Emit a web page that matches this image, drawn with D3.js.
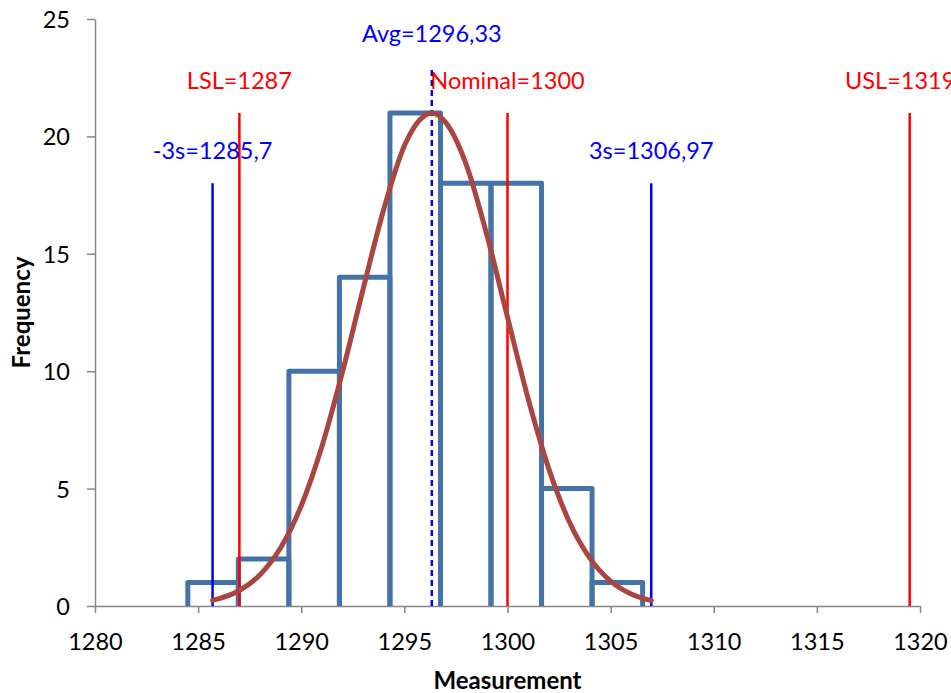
<!DOCTYPE html>
<html>
<head>
<meta charset="utf-8">
<script src="https://cdn.jsdelivr.net/npm/d3@7"></script>
<style>
  body { margin: 0; background: #fff; }
  svg { display: block; font-family: Lato, "Open Sans", sans-serif; }
</style>
</head>
<body>
<div id="chart"></div>
<script>
'use strict';

// histogram bins (edges) and counts
const binEdges = [1284.5, 1286.95, 1289.4, 1291.85, 1294.3, 1296.75, 1299.2, 1301.65, 1304.1, 1306.55];
const frequencies = [1, 2, 10, 14, 21, 18, 18, 5, 1];

// fitted curve
const curveX = [1285.7, 1287, 1288, 1289, 1290, 1291, 1292, 1293, 1294, 1295, 1296, 1296.33,
                1297, 1298, 1299, 1300, 1301, 1302, 1303, 1304, 1305, 1306, 1306.97];
const curveY = [0.24, 0.66, 1.33, 2.48, 4.27, 6.79, 9.97, 13.5, 16.9, 19.6, 20.9, 21,
                20.6, 18.8, 15.8, 12.3, 8.83, 5.85, 3.58, 2.03, 1.06, 0.51, 0.23];

// reference lines
const refNames  = ['LSL=1287', 'Nominal=1300', 'USL=1319,5', '-3s=1285,7', '3s=1306,97', 'Avg=1296,33'];
const refValues = [1287, 1300, 1319.5, 1285.7, 1306.97, 1296.33];
const refHeights = [21, 21, 21, 18, 18, 23];
const refKinds  = ['spec', 'spec', 'spec', 'sigma', 'sigma', 'avg'];

const xTicks = [1280, 1285, 1290, 1295, 1300, 1305, 1310, 1315, 1320];
const yTicks = [0, 5, 10, 15, 20, 25];

const kindStyle = {
    spec:  {color: '#ff0000', dash: null},
    sigma: {color: '#0000ff', dash: null},
    avg:   {color: '#0000ff', dash: '6,4'}
};

const W = 951, H = 693;
const margins = {top: 19, left: 95, right: 31, bottom: 87};
const width = W - margins.left - margins.right;
const height = H - margins.top - margins.bottom;

const xScale = d3.scaleLinear().domain([1280, 1320]).range([0, width]);
const yScale = d3.scaleLinear().domain([0, 25]).range([height, 0]);

const svg = d3.select('#chart').append('svg')
    .attr('width', W)
    .attr('height', H);

const chart = svg.append('g')
    .attr('transform', 'translate(' + margins.left + ',' + margins.top + ')');

// axes
const xAxis = d3.axisBottom(xScale).tickValues(xTicks).tickSize(7).tickSizeOuter(0).tickFormat(d3.format('d'));
const yAxis = d3.axisLeft(yScale).tickValues(yTicks).tickSize(8).tickSizeOuter(0);

const xAxisGroup = chart.append('g')
    .attr('transform', 'translate(0,' + height + ')')
    .call(xAxis);
const yAxisGroup = chart.append('g').call(yAxis);

[xAxisGroup, yAxisGroup].forEach(g => {
    g.select('.domain').attr('stroke', '#868686').attr('stroke-width', 1.5);
    g.selectAll('.tick line').attr('stroke', '#868686').attr('stroke-width', 1.5);
    g.selectAll('.tick text')
        .attr('fill', '#000')
        .style('font-size', '23.5px')
        .style('font-family', 'Lato, sans-serif');
});
xAxisGroup.selectAll('.tick text').attr('y', 43.5).attr('dy', 0);
yAxisGroup.selectAll('.tick text').attr('x', -25).attr('dy', '0.36em');

// histogram bars (outlines without bottom)
const bars = frequencies.map((f, i) => ({x0: binEdges[i], x1: binEdges[i + 1], f: f}));

chart.selectAll('.bar')
    .data(bars)
    .enter()
    .append('path')
    .attr('class', 'bar')
    .attr('d', d => 'M' + xScale(d.x0) + ',' + yScale(0) +
                    'V' + yScale(d.f) +
                    'H' + xScale(d.x1) +
                    'V' + yScale(0))
    .attr('fill', 'none')
    .attr('stroke', '#4572a7')
    .attr('stroke-width', 5)
    .attr('stroke-linejoin', 'round');

// reference lines
const refs = refNames.map((n, i) => ({name: n, v: refValues[i], h: refHeights[i], kind: refKinds[i]}));

chart.selectAll('.ref')
    .data(refs)
    .enter()
    .append('line')
    .attr('class', 'ref')
    .attr('x1', d => xScale(d.v))
    .attr('x2', d => xScale(d.v))
    .attr('y1', yScale(0))
    .attr('y2', d => yScale(d.h))
    .attr('stroke', d => kindStyle[d.kind].color)
    .attr('stroke-width', 2.5)
    .attr('stroke-dasharray', d => kindStyle[d.kind].dash);

// fitted curve
const curvePts = curveX.map((x, i) => [x, curveY[i]]);
chart.append('path')
    .datum(curvePts)
    .attr('d', d3.line().x(d => xScale(d[0])).y(d => yScale(d[1])).curve(d3.curveMonotoneX))
    .attr('fill', 'none')
    .attr('stroke', '#aa4641')
    .attr('stroke-width', 5)
    .attr('stroke-linecap', 'round');

// labels for reference lines
chart.selectAll('.ref-label')
    .data(refs)
    .enter()
    .append('text')
    .attr('class', 'ref-label')
    .attr('x', d => xScale(d.v))
    .attr('y', d => yScale(d.h) - 24)
    .attr('text-anchor', 'middle')
    .attr('fill', d => kindStyle[d.kind].color)
    .style('font-size', '23.5px')
    .text(d => d.name);

// axis titles
svg.append('text')
    .attr('x', margins.left + width / 2)
    .attr('y', 689)
    .attr('text-anchor', 'middle')
    .style('font-size', '24px')
    .style('font-weight', 'bold')
    .text('Measurement');

svg.append('text')
    .attr('transform', 'translate(30,' + (margins.top + height / 2) + ') rotate(-90)')
    .attr('text-anchor', 'middle')
    .style('font-size', '24px')
    .style('font-weight', 'bold')
    .text('Frequency');
</script>
</body>
</html>
